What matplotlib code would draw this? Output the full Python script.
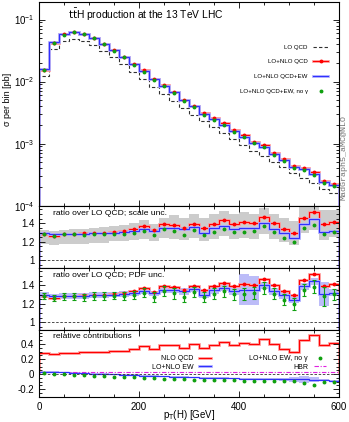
import numpy as np
import matplotlib.pyplot as plt
from matplotlib.lines import Line2D
from matplotlib.ticker import MultipleLocator, LogLocator, FormatStrFormatter, NullFormatter

plt.rcParams['font.family'] = ['Liberation Sans', 'DejaVu Sans']
plt.rcParams['axes.unicode_minus'] = False

# bin edges in pT(H) [GeV]
pt_edges = np.linspace(0, 600, 31)

# LO QCD cross section per bin [pb]
lo_qcd = [0.0121, 0.0333, 0.0448, 0.0486, 0.0452, 0.0386, 0.0314, 0.0245, 0.0192, 0.0144,
          0.0110, 0.0083, 0.00632, 0.00495, 0.00378, 0.00293, 0.00228, 0.00184, 0.00148, 0.00118,
          0.00096, 0.00077, 0.00064, 0.00051, 0.000425, 0.000335, 0.000276, 0.000228, 0.000183, 0.000161]

# ratios over LO QCD
r_nlo = [1.28, 1.262, 1.287, 1.287, 1.29, 1.294, 1.30, 1.31, 1.313, 1.338,
         1.375, 1.327, 1.393, 1.385, 1.353, 1.396, 1.349, 1.393, 1.43, 1.389,
         1.411, 1.404, 1.465, 1.40, 1.338, 1.298, 1.458, 1.52, 1.389, 1.411]
r_ew = [1.298, 1.28, 1.287, 1.287, 1.284, 1.298, 1.298, 1.30, 1.305, 1.316,
        1.338, 1.313, 1.353, 1.353, 1.335, 1.364, 1.30, 1.345, 1.371, 1.335,
        1.353, 1.345, 1.40, 1.335, 1.291, 1.244, 1.389, 1.444, 1.31, 1.32]
r_noa = [1.284, 1.265, 1.28, 1.28, 1.27, 1.284, 1.284, 1.287, 1.284, 1.298,
         1.32, 1.273, 1.335, 1.313, 1.276, 1.327, 1.27, 1.309, 1.335, 1.305,
         1.309, 1.313, 1.371, 1.309, 1.244, 1.20, 1.349, 1.385, 1.28, 1.305]

# scale uncertainty band (ratio over LO)
scale_hi = [1.33, 1.315, 1.33, 1.335, 1.34, 1.35, 1.36, 1.37, 1.38, 1.40,
            1.44, 1.39, 1.46, 1.49, 1.46, 1.50, 1.46, 1.50, 1.535, 1.505,
            1.525, 1.505, 1.57, 1.505, 1.46, 1.42, 1.62, 1.68, 1.54, 1.54]
scale_lo = [1.18, 1.165, 1.175, 1.18, 1.18, 1.19, 1.19, 1.205, 1.205, 1.22,
            1.235, 1.21, 1.245, 1.235, 1.22, 1.245, 1.21, 1.235, 1.26, 1.225,
            1.245, 1.235, 1.285, 1.235, 1.20, 1.165, 1.29, 1.325, 1.22, 1.255]

# PDF band half width (around QCD+EW) and no-photon error bars
pdf_half = [0.03, 0.03, 0.03, 0.03, 0.03, 0.03, 0.03, 0.03, 0.03, 0.03,
            0.03, 0.03, 0.035, 0.035, 0.035, 0.035, 0.035, 0.035, 0.035, 0.035,
            0.17, 0.155, 0.035, 0.035, 0.035, 0.04, 0.04, 0.04, 0.13, 0.04]
noa_err = [0.035, 0.035, 0.035, 0.035, 0.035, 0.04, 0.04, 0.04, 0.045, 0.045,
           0.05, 0.05, 0.055, 0.06, 0.055, 0.055, 0.055, 0.06, 0.06, 0.06,
           0.065, 0.065, 0.065, 0.06, 0.06, 0.065, 0.06, 0.07, 0.1, 0.06]

# relative contributions
rel_ew = [0.03, 0.027, 0.022, 0.016, 0.01, 0.005, 0.0, -0.005, -0.01, -0.015,
          -0.02, -0.025, -0.03, -0.035, -0.04, -0.045, -0.048, -0.052, -0.055, -0.058,
          -0.06, -0.062, -0.065, -0.068, -0.07, -0.07, -0.068, -0.072, -0.08, -0.09]
rel_ew_half = [0.01, 0.01, 0.01, 0.01, 0.01, 0.01, 0.01, 0.01, 0.01, 0.01,
               0.01, 0.01, 0.01, 0.01, 0.01, 0.01, 0.01, 0.01, 0.012, 0.012,
               0.012, 0.012, 0.012, 0.015, 0.015, 0.03, 0.045, 0.03, 0.015, 0.015]
rel_noa = [0.013, 0.004, -0.004, -0.013, -0.018, -0.022, -0.031, -0.036, -0.044, -0.044,
           -0.058, -0.058, -0.062, -0.067, -0.071, -0.076, -0.076, -0.076, -0.08, -0.084,
           -0.089, -0.093, -0.098, -0.093, -0.098, -0.098, -0.116, -0.151, -0.111, -0.107]
hbr = [0.025, 0.025, 0.025, 0.025, 0.025, 0.025, 0.025, 0.025, 0.025, 0.025,
       0.025, 0.025, 0.025, 0.025, 0.025, 0.025, 0.025, 0.025, 0.025, 0.025,
       0.025, 0.025, 0.025, 0.025, 0.025, 0.025, 0.025, 0.025, 0.025, 0.025]

lo = np.array(lo_qcd)
r_nlo = np.array(r_nlo)
r_ew = np.array(r_ew)
r_noa = np.array(r_noa)
centers = 0.5 * (pt_edges[1:] + pt_edges[:-1])

RED, RED_L = '#ff0000', '#ffa0a0'
BLUE, BLUE_L = '#3030ff', '#b0b0ff'
GREEN = '#10a010'
GREY = '#cccccc'
HALO = 2.0

fig = plt.figure(figsize=(3.49, 4.22), dpi=100)
L, W = 0.1126, 0.858
ax0 = fig.add_axes([L, 0.5126, W, 0.4838])
ax1 = fig.add_axes([L, 0.3656, W, 0.1470])
ax2 = fig.add_axes([L, 0.2187, W, 0.1469])
ax3 = fig.add_axes([L, 0.0600, W, 0.1587])


def red_steps(ax, y):
    ax.stairs(y, pt_edges, color=RED_L, lw=HALO)
    ax.stairs(y, pt_edges, color=RED, lw=0.8)


def blue_steps(ax, y):
    ax.stairs(y, pt_edges, color=BLUE_L, lw=HALO)
    ax.stairs(y, pt_edges, color=BLUE, lw=0.8)


# main panel
ax0.stairs(lo, pt_edges, color='#303030', lw=0.8, linestyle=(0, (3, 2)))
red_steps(ax0, lo * r_nlo)
blue_steps(ax0, lo * r_ew)
ax0.plot(centers, lo * r_nlo, 'o', color=RED, ms=1.8)
ax0.plot(centers, lo * r_noa, 'o', color=GREEN, ms=1.8)
ax0.set_yscale('log')
ax0.set_ylim(1e-4, 0.195)
ax0.set_ylabel('σ per bin [pb]', fontsize=6.5)
ax0.yaxis.set_label_coords(-0.092, 0.52)
ax0.text(0.096, 0.934, r'$\mathrm{t\bar{t}}$H production at the 13 TeV LHC',
         transform=ax0.transAxes, fontsize=7.4, va='center')

handles = [Line2D([], [], color='#303030', lw=0.8, linestyle=(0, (3, 2))),
           (Line2D([], [], color=RED_L, lw=HALO), Line2D([], [], color=RED, lw=0.8, marker='o', ms=1.8)),
           (Line2D([], [], color=BLUE_L, lw=HALO), Line2D([], [], color=BLUE, lw=0.8)),
           Line2D([], [], color=GREEN, ls='none', marker='o', ms=1.8)]
labels = ['LO QCD', 'LO+NLO QCD', 'LO+NLO QCD+EW', 'LO+NLO QCD+EW, no γ']
ax0.legend(handles, labels, loc='upper right', bbox_to_anchor=(0.964, 0.79),
           frameon=False, markerfirst=False, fontsize=4.4, handlelength=2.4,
           handletextpad=0.9, labelspacing=1.55, borderpad=0, borderaxespad=0)

# ratio, scale uncertainty
ax1.stairs(scale_hi, pt_edges, baseline=scale_lo, fill=True, color=GREY, lw=0)
ax1.axhline(1.0, color='#303030', lw=0.6, linestyle=(0, (3, 2)))
red_steps(ax1, r_nlo)
blue_steps(ax1, r_ew)
ax1.plot(centers, r_nlo, 'o', color=RED, ms=1.8)
ax1.plot(centers, r_noa, 'o', color=GREEN, ms=1.8)
ax1.set_ylim(0.92, 1.59)
ax1.text(0.046, 0.88, 'ratio over LO QCD; scale unc.', transform=ax1.transAxes,
         fontsize=6.1, va='center')

# ratio, PDF uncertainty
pdf_half = np.array(pdf_half)
ax2.stairs(r_ew + pdf_half, pt_edges, baseline=r_ew - pdf_half, fill=True,
           color='#bcbcf8', lw=0)
ax2.axhline(1.0, color='#303030', lw=0.6, linestyle=(0, (3, 2)))
red_steps(ax2, r_nlo)
blue_steps(ax2, r_ew)
ax2.plot(centers, r_nlo, 'o', color=RED, ms=1.8)
ax2.errorbar(centers, r_noa, yerr=noa_err, fmt='o', color=GREEN, ms=1.8,
             elinewidth=0.8, capsize=1.5, capthick=0.8)
ax2.set_ylim(0.92, 1.59)
ax2.text(0.046, 0.88, 'ratio over LO QCD; PDF unc.', transform=ax2.transAxes,
         fontsize=6.1, va='center')

# relative contributions
rel_ew = np.array(rel_ew)
rel_ew_half = np.array(rel_ew_half)
ax3.stairs(rel_ew + rel_ew_half, pt_edges, baseline=rel_ew - rel_ew_half, fill=True,
           color='#bcbcf8', lw=0)
ax3.axhline(0.0, color='#303030', lw=0.6, linestyle=(0, (3, 2)))
ax3.stairs(hbr, pt_edges, color='#e020e0', lw=0.8, linestyle=(0, (4, 1.5, 1, 1.5)))
red_steps(ax3, r_nlo - 1)
ax3.stairs(rel_ew, pt_edges, color=BLUE, lw=0.9)
ax3.plot(centers, rel_noa, 'o', color=GREEN, ms=1.8)
ax3.set_ylim(-0.3, 0.59)
ax3.text(0.046, 0.905, 'relative contributions', transform=ax3.transAxes,
         fontsize=6.1, va='center')
h3 = [(Line2D([], [], color=RED_L, lw=HALO), Line2D([], [], color=RED, lw=0.8)),
      (Line2D([], [], color=BLUE_L, lw=HALO), Line2D([], [], color=BLUE, lw=0.8)),
      Line2D([], [], color=GREEN, ls='none', marker='o', ms=1.8),
      Line2D([], [], color='#e020e0', lw=0.8, linestyle=(0, (4, 1.5, 1, 1.5)))]
l3 = ['NLO QCD', 'LO+NLO EW', 'LO+NLO EW, no γ', 'HBR']
ax3.legend(h3, l3, loc='upper right', bbox_to_anchor=(0.958, 0.62), ncol=2,
           frameon=False, markerfirst=False, fontsize=5, handlelength=1.8,
           handletextpad=0.8, labelspacing=0.25, columnspacing=5.5,
           borderpad=0, borderaxespad=0)
ax3.set_xlabel(r'p$_\mathrm{T}$(H) [GeV]', fontsize=7)
ax3.xaxis.set_label_coords(0.5, -0.175)

for ax in (ax0, ax1, ax2, ax3):
    ax.set_xlim(0, 600)
    ax.xaxis.set_major_locator(MultipleLocator(200))
    ax.xaxis.set_minor_locator(MultipleLocator(50))
    ax.tick_params(which='both', direction='in', top=True, right=True,
                   labelsize=7, width=0.6)
    ax.tick_params(which='major', length=4)
    ax.tick_params(which='minor', length=2)
    for s in ax.spines.values():
        s.set_linewidth(0.8)
    if ax is not ax3:
        ax.tick_params(labelbottom=False)

ax0.yaxis.set_major_locator(LogLocator(base=10))
ax0.yaxis.set_minor_locator(LogLocator(base=10, subs=np.arange(2, 10)))
ax0.yaxis.set_minor_formatter(NullFormatter())
for ax in (ax1, ax2):
    ax.yaxis.set_major_locator(MultipleLocator(0.2))
    ax.yaxis.set_minor_locator(MultipleLocator(0.05))
    ax.yaxis.set_major_formatter(FormatStrFormatter('%g'))
ax3.yaxis.set_major_locator(MultipleLocator(0.2))
ax3.yaxis.set_minor_locator(MultipleLocator(0.05))
ax3.yaxis.set_major_formatter(FormatStrFormatter('%g'))

fig.text(0.985, 0.626, 'MadGraph5_aMC@NLO', rotation=90, ha='center', va='center',
         fontsize=6, color='#707070', family='Liberation Mono')

fig.savefig('out.png', dpi=100)
